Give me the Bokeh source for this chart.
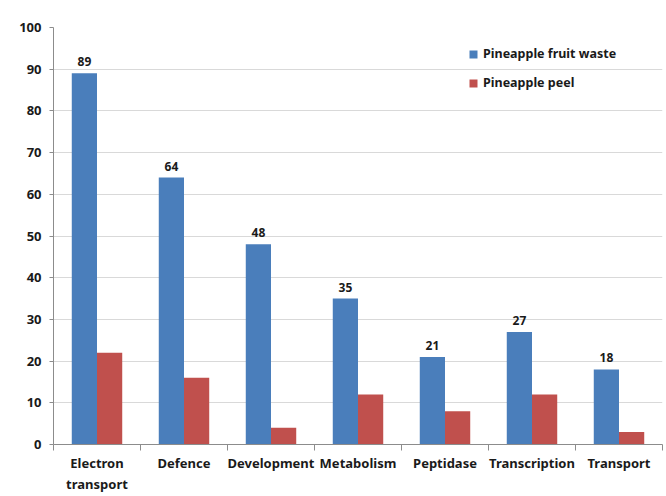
from bokeh.plotting import figure
from bokeh.models import ColumnDataSource, FixedTicker, Legend, LegendItem
from bokeh.transform import dodge
from bokeh.core.properties import value
from bokeh.embed import file_html
from bokeh.resources import INLINE

categories = ["Electron\ntransport", "Defence", "Development", "Metabolism",
              "Peptidase", "Transcription", "Transport"]
fruit_waste = [89, 64, 48, 35, 21, 27, 18]
peel = [22, 16, 4, 12, 8, 12, 3]
series_names = ["Pineapple fruit waste", "Pineapple peel"]
y_ticks = [0, 10, 20, 30, 40, 50, 60, 70, 80, 90, 100]

BLUE = "#4a7ebb"
RED = "#c0504d"
FONT = "Noto Sans"

xs = [i + 0.5 for i in range(len(categories))]
src = ColumnDataSource(dict(x=xs, a=fruit_waste, b=peel,
                            lab=[str(v) for v in fruit_waste]))

p = figure(width=666, height=496, x_range=(0, len(categories)), y_range=(0, 100),
           output_backend="svg", toolbar_location=None,
           min_border_left=53, min_border_right=4, min_border_top=27, min_border_bottom=52)
p.outline_line_color = None
p.background_fill_color = "white"
p.border_fill_color = "white"

w = 0.29
r1 = p.vbar(x=dodge("x", -w / 2, range=p.x_range), top="a", width=w, source=src,
            fill_color=BLUE, line_color=None)
r2 = p.vbar(x=dodge("x", w / 2, range=p.x_range), top="b", width=w, source=src,
            fill_color=RED, line_color=None)
p.text(x=dodge("x", -w / 2, range=p.x_range), y="a", text="lab", source=src,
       text_align="center", text_baseline="bottom", y_offset=-7,
       text_font=value(FONT), text_font_style="bold", text_font_size="12px",
       text_color="#1a1a1a")

# axes
p.xaxis.ticker = FixedTicker(ticks=xs, minor_ticks=list(range(len(categories) + 1)))
p.xaxis.major_label_overrides = {x: c for x, c in zip(xs, categories)}
p.xaxis.major_tick_line_color = None
p.xaxis.major_tick_out = 0
p.xaxis.major_tick_in = 0
p.xaxis.minor_tick_out = 6
p.xaxis.minor_tick_in = 0
p.xaxis.minor_tick_line_color = "#8c8c8c"
p.xaxis.axis_line_color = "#8c8c8c"
p.xaxis.major_label_standoff = 3
p.yaxis.ticker = FixedTicker(ticks=y_ticks)
p.yaxis.axis_line_color = "#8c8c8c"
p.yaxis.major_tick_line_color = "#8c8c8c"
p.yaxis.major_tick_out = 4
p.yaxis.major_tick_in = 0
p.yaxis.minor_tick_line_color = None
p.yaxis.major_label_standoff = 8
for ax in (p.xaxis, p.yaxis):
    ax.major_label_text_font = FONT
    ax.major_label_text_font_style = "bold"
    ax.major_label_text_font_size = "13px"
    ax.major_label_text_color = "#1a1a1a"

p.xgrid.grid_line_color = None
p.ygrid.grid_line_color = "#d9d9d9"
p.ygrid.ticker = FixedTicker(ticks=y_ticks)

legend = Legend(items=[LegendItem(label=series_names[0], renderers=[r1]),
                       LegendItem(label=series_names[1], renderers=[r2])],
                location=(415, 353), orientation="vertical")
legend.border_line_color = None
legend.background_fill_alpha = 0
legend.padding = 0
legend.spacing = 12
legend.glyph_width = 10
legend.glyph_height = 10
legend.label_height = 12
legend.label_standoff = 5
legend.label_text_font = FONT
legend.label_text_font_style = "bold"
legend.label_text_font_size = "12.5px"
legend.label_text_color = "#1a1a1a"
p.add_layout(legend, "center")

open("out.html", "w").write(file_html(p, INLINE))
